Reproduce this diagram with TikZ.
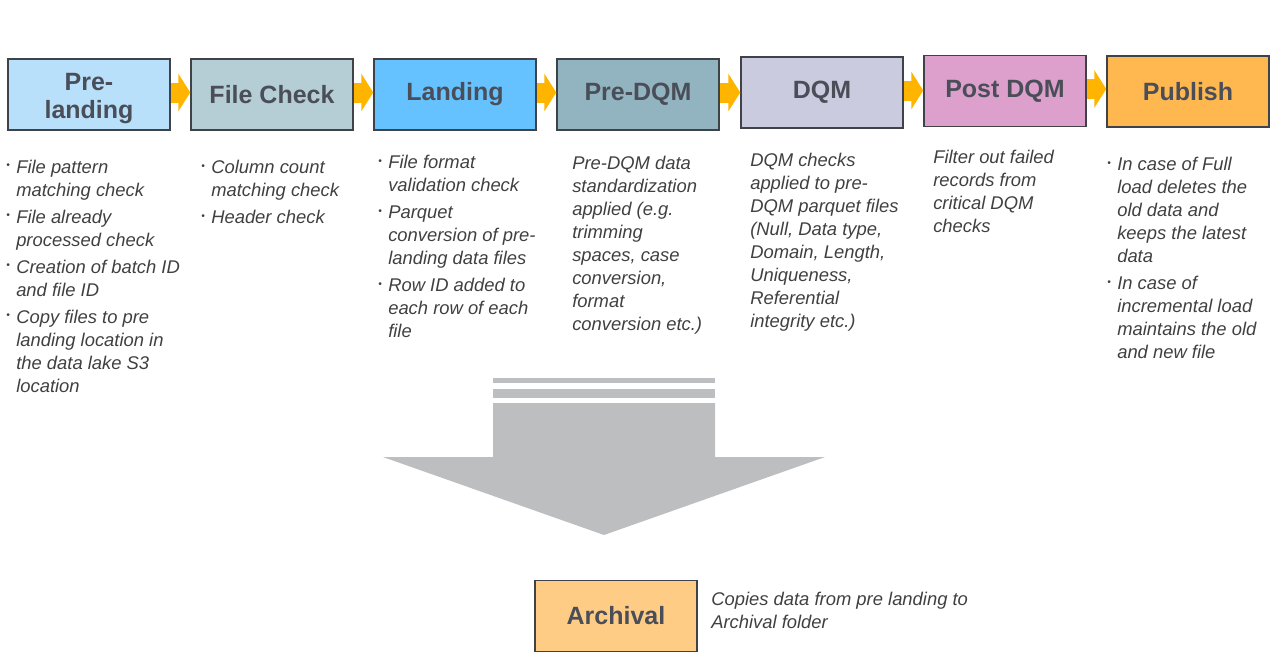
\documentclass[tikz,border=0pt]{standalone}
\usepackage{fontspec}
\setmainfont{Liberation Sans}
\usetikzlibrary{arrows.meta}

\definecolor{prelandcol}{HTML}{B8E0FA}
\definecolor{filechkcol}{HTML}{B5CDD5}
\definecolor{landcol}{HTML}{66C2FF}
\definecolor{predqmcol}{HTML}{92B4C0}
\definecolor{dqmcol}{HTML}{CBCBE0}
\definecolor{postcol}{HTML}{DDA0CC}
\definecolor{pubcol}{HTML}{FFB84F}
\definecolor{archcol}{HTML}{FFCC85}
\definecolor{flowcol}{HTML}{FFB400}
\definecolor{bigarrowcol}{HTML}{BDBEC0}
\definecolor{titlecol}{HTML}{4A4E58}
\definecolor{notecol}{HTML}{404040}
\definecolor{boxline}{HTML}{3F4347}

\newcommand{\notebox}[1]{\parbox[t]{250pt}{#1}}
\newcommand{\bitem}[1]{\par\setlength{\parskip}{3pt}\hangindent=7.5pt\hangafter=1\noindent
	\makebox[7.5pt][l]{\raisebox{0.25em}{\scalebox{0.55}{\textbullet}}}#1\par}

\begin{document}
\begin{tikzpicture}[x=0.75pt, y=-0.75pt,
	stage/.style={draw=boxline, line width=1.1pt, minimum width=121.5pt, minimum height=53.25pt,
		inner sep=0pt, align=center, text=titlecol, font=\bfseries\fontsize{18.75}{21}\selectfont},
	note/.style={anchor=north west, inner sep=0pt, text=notecol,
		font=\itshape\fontsize{13.8}{17.25}\selectfont},
	flow/.style={line width=15pt, flowcol, -{Triangle[length=9pt, width=28pt]}}]
		\useasboundingbox (0,0) rectangle (1272,664);
		\foreach \name/\x/\y/\fillc/\txt in {pland/89/94.5/prelandcol/{\raisebox{-3pt}[\height][\depth]{\begin{tabular}{@{}c@{}}Pre-\\landing\end{tabular}}},
			fchk/272/94.5/filechkcol/File Check, land/455/94.5/landcol/Landing,
			pdqm/638/94.5/predqmcol/Pre-DQM, dqm/822/92.5/dqmcol/DQM,
			post/1005/91/postcol/Post DQM, pub/1188/91.5/pubcol/Publish}
		\node[stage, fill=\fillc] (\name) at (\x,\y) {\txt};
		\foreach \a/\b in {pland/fchk, fchk/land, land/pdqm, pdqm/dqm, dqm/post, post/pub}
		\draw[flow] ([yshift=1.5pt]\a.east) -- ([yshift=1.5pt]\a.east -| \b.west);

		\node[note] (plandnote) at (6,159.5) {\notebox{\bitem{File pattern\\matching check}
			\bitem{File already\\processed check}
			\bitem{Creation of batch ID\\and file ID}
			\bitem{Copy files to pre\\landing location in\\the data lake S3\\location}}};
		\node[note] (fchknote) at (201,160) {\notebox{\bitem{Column count\\matching check}
			\bitem{Header check}}};
		\node[note] (landnote) at (378,155) {\notebox{\bitem{File format\\validation check}
			\bitem{Parquet\\conversion of pre-\\landing data files}
			\bitem{Row ID added to\\each row of each\\file}}};
		\node[note] (pdqmnote) at (572,156) {\notebox{Pre-DQM data\\standardization\\applied (e.g.\\trimming\\spaces, case\\conversion,\\format\\conversion etc.)}};
		\node[note] (dqmnote) at (750,153) {\notebox{DQM checks\\applied to pre-\\DQM parquet files\\(Null, Data type,\\Domain, Length,\\Uniqueness,\\Referential\\integrity etc.)}};
		\node[note] (postnote) at (933,150) {\notebox{Filter out failed\\records from\\critical DQM\\checks}};
		\node[note] (pubnote) at (1107,157) {\notebox{\bitem{In case of Full\\load deletes the\\old data and\\keeps the latest\\data}
			\bitem{In case of\\incremental load\\maintains the old\\and new file}}};

		% big arrow down to archival
		\fill[bigarrowcol] (493,378) rectangle (715,383);
		\fill[bigarrowcol] (493,389) rectangle (715,398);
		\fill[bigarrowcol] (493,403) -- (715,403) -- (715,457) -- (825,457) -- (604,535)
			-- (383,457) -- (493,457) -- cycle;

		\node[stage, fill=archcol] (arch) at (616,616) {Archival};
		\node[note] (archnote) at (711,592) {\notebox{Copies data from pre landing to\\Archival folder}};
\end{tikzpicture}
\end{document}
